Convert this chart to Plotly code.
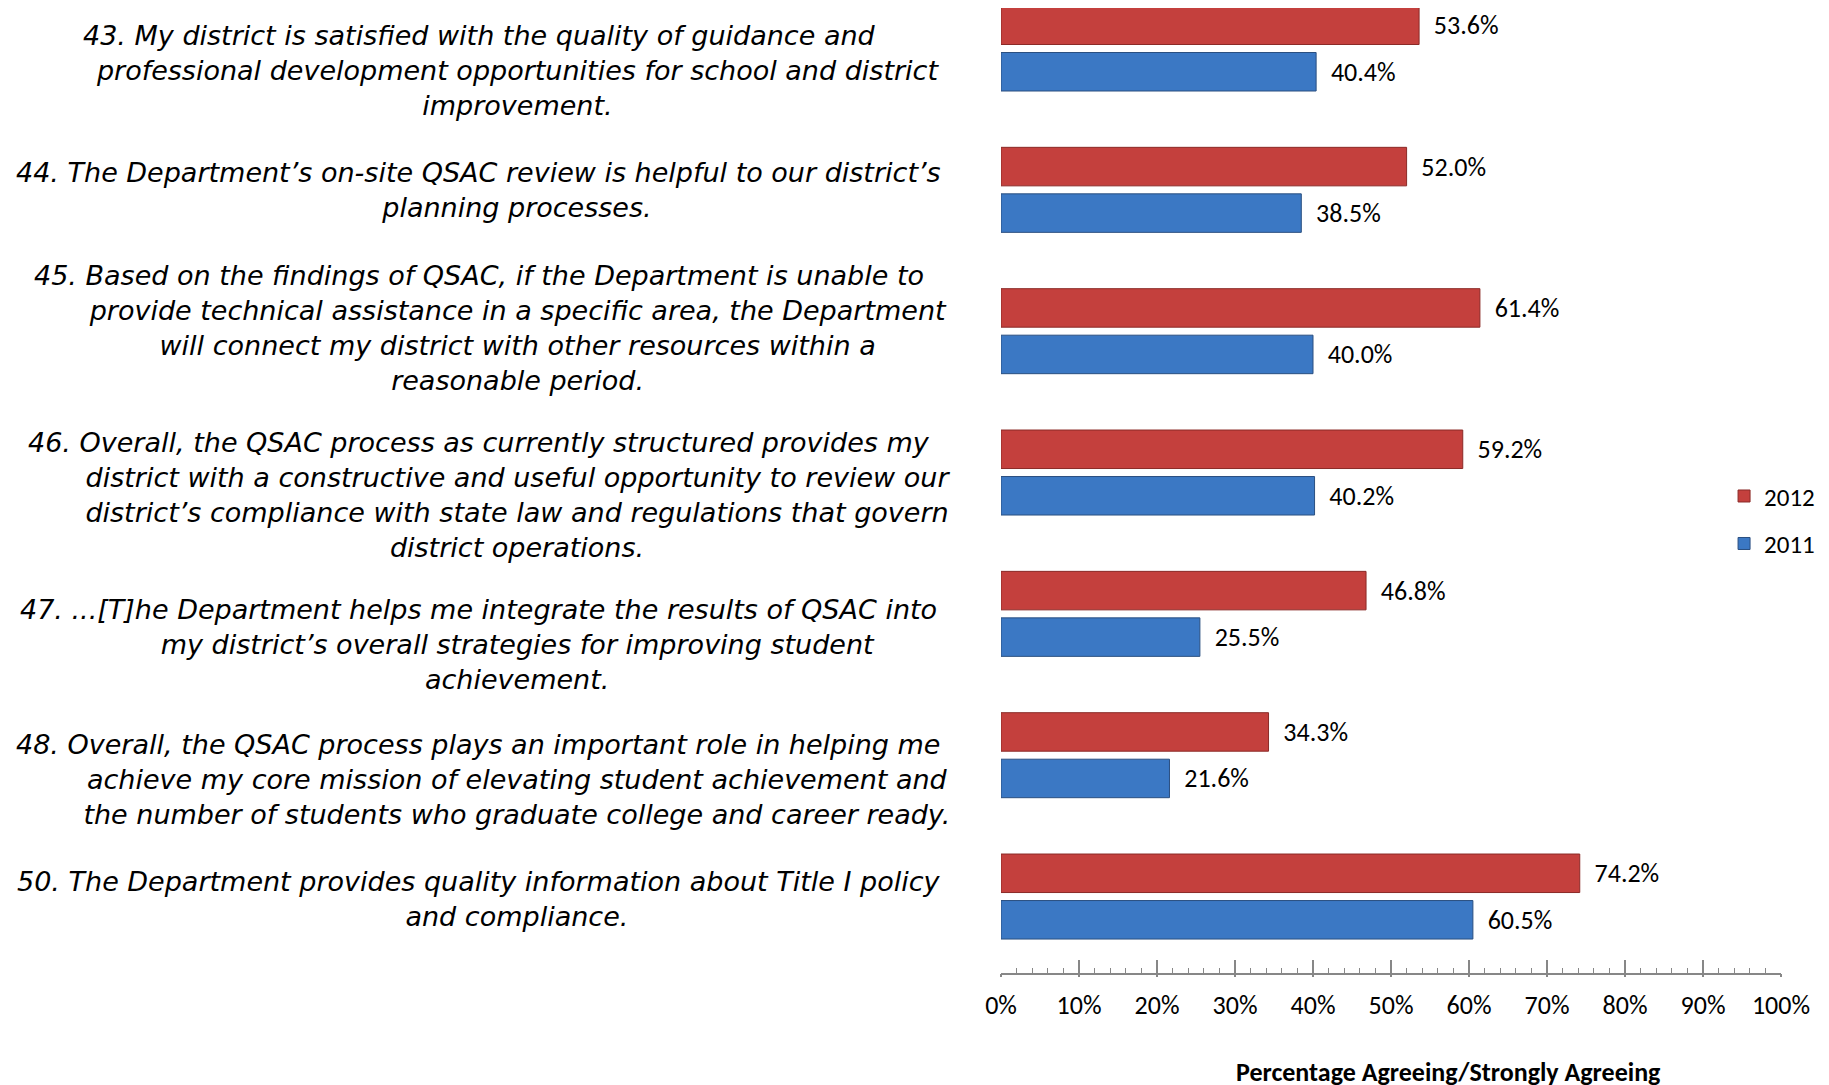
import plotly.graph_objects as go

categories = ["50", "48", "47", "46", "45", "44", "43"]
label_lines = [
    ["50. The Department provides quality information about Title I policy",
     "and compliance."],
    ["48. Overall, the QSAC process plays an important role in helping me",
     "achieve my core mission of elevating student achievement and",
     "the number of students who graduate college and career ready."],
    ["47. ...[T]he Department helps me integrate the results of QSAC into",
     "my district’s overall strategies for improving student",
     "achievement."],
    ["46. Overall, the QSAC process as currently structured provides my",
     "district with a constructive and useful opportunity to review our",
     "district’s compliance with state law and regulations that govern",
     "district operations."],
    ["45. Based on the findings of QSAC, if the Department is unable to",
     "provide technical assistance in a specific area, the Department",
     "will connect my district with other resources within a",
     "reasonable period."],
    ["44. The Department’s on-site QSAC review is helpful to our district’s",
     "planning processes."],
    ["43. My district is satisfied with the quality of guidance and",
     "professional development opportunities for school and district",
     "improvement."],
]
values_2012 = [74.2, 34.3, 46.8, 59.2, 61.4, 52.0, 53.6]
values_2011 = [60.5, 21.6, 25.5, 40.2, 40.0, 38.5, 40.4]
x_ticks = [0, 10, 20, 30, 40, 50, 60, 70, 80, 90, 100]
x_ticklabels = [f"{t}%" for t in x_ticks]

# layout-only tweaks (vertical nudges of the wrapped labels, in px)
label_shift = [-2.5, -24, -31, -22, 3, 0, -21.5]

FONT = "Carlito, Lato, sans-serif"
LABEL_FONT = "'DejaVu Sans', sans-serif"
NB = "\u00a0"

fig = go.Figure()
fig.add_trace(go.Bar(
    y=categories, x=values_2011, orientation="h", name="2011",
    legendgroup="a", legendrank=2,
    marker=dict(color="#3B78C4", line=dict(color="#2A4F80", width=1)),
    text=[f"{NB*2}{v:.1f}%" for v in values_2011], textposition="outside",
    textfont=dict(family=FONT, size=26, color="black"), cliponaxis=False,
))
fig.add_trace(go.Bar(
    y=categories, x=values_2012, orientation="h", name="2012",
    legendgroup="b", legendrank=1,
    marker=dict(color="#C4403D", line=dict(color="#8B2A27", width=1)),
    text=[f"{NB*2}{v:.1f}%" for v in values_2012], textposition="outside",
    textfont=dict(family=FONT, size=26, color="black"), cliponaxis=False,
))
# helper trace for the outer half of the crossing major ticks
fig.add_trace(go.Scatter(x=[0, 100], y=[None, None], xaxis="x2", yaxis="y",
                         showlegend=False, hoverinfo="skip", mode="lines"))

for i, (lines, sh) in enumerate(zip(label_lines, label_shift)):
    text = "<br>".join([lines[0] + NB * 9] + lines[1:])
    fig.add_annotation(
        x=-0.6205, xref="paper", y=i, yref="y", yshift=sh,
        text=f"<i>{text}</i>", showarrow=False, align="center",
        xanchor="center", yanchor="middle",
        font=dict(family=LABEL_FONT, size=27, color="black"),
    )

fig.add_annotation(
    x=0.574, xref="paper", y=-0.103, yref="paper",
    text="<b>Percentage Agreeing/Strongly Agreeing</b>", showarrow=False,
    xanchor="center", yanchor="middle",
    font=dict(family=FONT, size=26, color="black"),
)

axis_gray = "#878787"
fig.update_layout(
    width=1829, height=1085,
    margin=dict(l=993, r=56, t=0, b=120),
    paper_bgcolor="white", plot_bgcolor="white",
    barmode="group", bargap=0.342, bargroupgap=0.172,
    font=dict(family=FONT, color="black"),
    xaxis=dict(
        range=[0, 100], tickvals=x_ticks, ticktext=x_ticklabels,
        showgrid=False, zeroline=False, showline=True, linecolor=axis_gray, linewidth=1.5,
        ticks="inside", ticklen=13, tickcolor=axis_gray, tickwidth=1.5,
        minor=dict(dtick=2, ticks="inside", ticklen=5, tickcolor=axis_gray, tickwidth=1.2),
        tickfont=dict(family=FONT, size=26, color="black"),
        ticklabelstandoff=8,
    ),
    xaxis2=dict(
        range=[0, 100], overlaying="x", anchor="y", side="bottom",
        tickvals=x_ticks, showticklabels=False, showgrid=False, zeroline=False,
        ticks="outside", ticklen=3, tickcolor=axis_gray, tickwidth=1.5, showline=False,
    ),
    yaxis=dict(
        categoryorder="array", categoryarray=categories,
        range=[-0.541, 6.2866], showticklabels=False, showgrid=False,
        zeroline=False, showline=False, ticks="",
    ),
    legend=dict(
        x=0.927, xanchor="left", y=0.4697, yanchor="middle",
        traceorder="grouped", tracegroupgap=12,
        font=dict(family=FONT, size=25, color="black"),
        itemwidth=30, bgcolor="rgba(0,0,0,0)",
    ),
    showlegend=True,
)

fig.write_html("out.html")
